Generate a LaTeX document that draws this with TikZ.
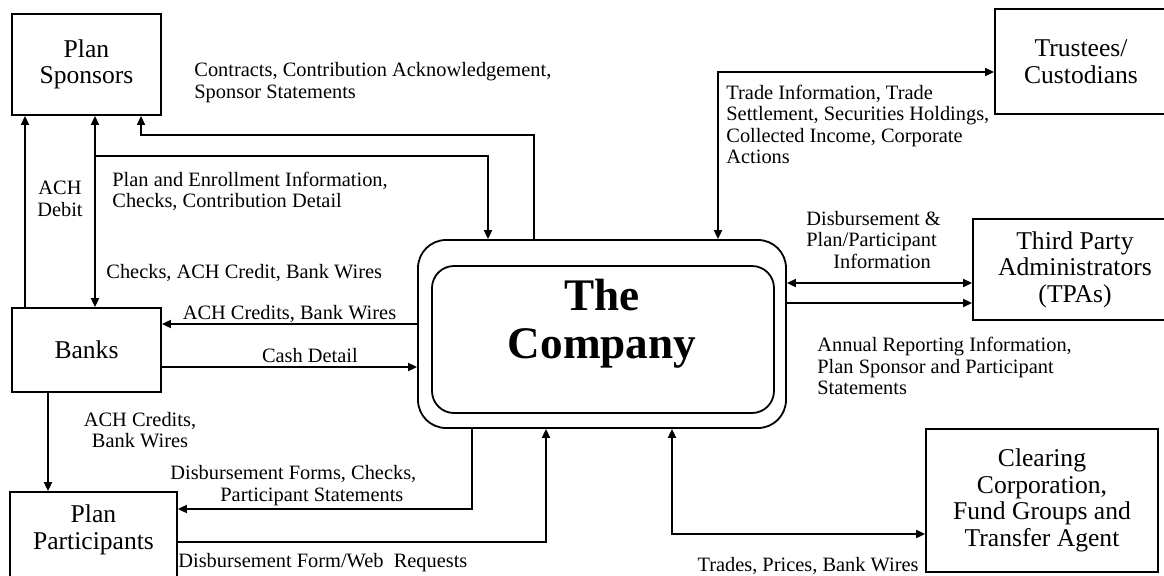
\documentclass[tikz,border=0pt]{standalone}
\usepackage{fontspec}
\setmainfont{Liberation Serif}
\usetikzlibrary{arrows.meta}

\begin{document}
\begin{tikzpicture}[x=0.5pt,y=-0.5pt,
    party/.style={draw,line width=0.9pt,align=center,inner sep=0pt,
      font=\fontsize{12.8}{13.3}\selectfont},
    lbl/.style={font=\fontsize{10.2}{10.8}\selectfont,align=left,inner sep=0pt},
    flow/.style={line width=0.9pt,-{Triangle[length=4.5pt,width=4pt]}},
    both/.style={line width=0.9pt,{Triangle[length=4.5pt,width=4pt]}-{Triangle[length=4.5pt,width=4pt]}}]
  \useasboundingbox (0,0) rectangle (1164,575);

  % outside parties
  \node[party,minimum width=74.5pt,minimum height=50.5pt] (spon) at (86.5,64.5) {Plan\\Sponsors};
  \node[party,minimum width=74.5pt,minimum height=42pt] (bank) at (86.5,350) {Banks};
  \node[party,minimum width=83.5pt,minimum height=49pt] (part) at (93.5,541) {};
  \node[align=center,font=\fontsize{12.8}{13.3}\selectfont] (partname) at (93.5,530) {Plan\\Participants};
  \node[party,minimum width=86pt,minimum height=52.5pt] (trus) at (1081,61.5) {Trustees/\\Custodians};
  \node[party,minimum width=102pt,minimum height=50.5pt] (tpa) at (1075,269.5) {Third Party\\Administrators\\(TPAs)};
  \node[party,minimum width=116pt,minimum height=71.5pt] (clear) at (1042,500.5) {Clearing\\Corporation,\\Fund Groups and\\Transfer Agent};

  % the company, double rounded frame
  \node[draw,line width=0.9pt,rounded corners=14pt,minimum width=184pt,minimum height=94pt] (comp) at (602,334) {};
  \node[draw,line width=0.9pt,rounded corners=11pt,minimum width=171pt,minimum height=73.5pt] (core) at (603,339.5) {};
  \node[font=\fontsize{22.6}{24}\selectfont\bfseries,align=center] (name) at (602,324) {The\\Company};

  % lanes and bends
  \coordinate (debit) at (25,0);
  \coordinate (credit) at (95,156);
  \coordinate (enrol) at (488,0);
  \coordinate (stmt) at (141,135);
  \coordinate (contract) at (534,0);
  \coordinate (wire) at (0,324);
  \coordinate (cash) at (0,367);
  \coordinate (pay) at (48,0);
  \coordinate (disb) at (472,509);
  \coordinate (req) at (546,542);
  \coordinate (trade) at (718,72);
  \coordinate (admin) at (0,283);
  \coordinate (report) at (0,303);
  \coordinate (trades) at (672,534);

  % sponsors and banks
  \draw[flow] (bank.north -| debit) -- (spon.south -| debit);
  \draw[both] (spon.south -| credit) -- (bank.north -| credit);
  \draw[flow] (credit) -| (comp.north -| enrol);
  \draw[flow] (comp.north -| contract) |- (stmt) -- (spon.south -| stmt);
  \draw[flow] (comp.west |- wire) -- (bank.east |- wire)
    node[lbl,midway,yshift=5pt] {ACH Credits, Bank Wires};
  \draw[flow] (bank.east |- cash) -- (comp.west |- cash)
    node[lbl,pos=0.58,yshift=5.5pt] {Cash Detail};
  \draw[flow] (bank.south -| pay) -- (part.north -| pay);

  % participants
  \draw[flow] (comp.south -| disb) |- (part.east |- disb);
  \draw[flow] (part.east |- req) -| (comp.south -| req);

  % right hand side
  \draw[both] (comp.north -| trade) |- (trus.west |- trade);
  \draw[both] (comp.east |- admin) -- (tpa.west |- admin);
  \draw[flow] (comp.east |- report) -- (tpa.west |- report);
  \draw[both] (comp.south -| trades) |- (clear.west |- trades);

  % flow texts
  \node[lbl,anchor=west] (l1) at (194,82.5) {Contracts, Contribution Acknowledgement,\\Sponsor Statements};
  \node[lbl,align=center] (l2) at (60,199) {ACH\\Debit};
  \node[lbl,anchor=west] (l3) at (112,191.5) {Plan and Enrollment Information,\\Checks, Contribution Detail};
  \node[lbl,anchor=west] (l4) at (106,273) {Checks, ACH Credit, Bank Wires};
  \node[lbl,align=center] (l5) at (140,430) {ACH Credits,\\Bank Wires};
  \node[lbl,anchor=west] (l6) at (170,485.5) {Disbursement Forms, Checks,\\\hspace*{25pt}Participant Statements};
  \node[lbl,anchor=west] (l7) at (178,563) {Disbursement Form/Web\ \ Requests};
  \node[lbl,anchor=west] (l8) at (726,124.5) {Trade Information, Trade\\Settlement, Securities Holdings,\\Collected Income, Corporate\\Actions};
  \node[lbl,anchor=west] (l9) at (806,240) {Disbursement \&\\Plan/Participant\\\hspace*{13.5pt}Information};
  \node[lbl,anchor=west] (l10) at (817,366) {Annual Reporting Information,\\Plan Sponsor and Participant\\Statements};
  \node[lbl,anchor=east] (l11) at (919,566) {Trades, Prices, Bank Wires};
\end{tikzpicture}
\end{document}
